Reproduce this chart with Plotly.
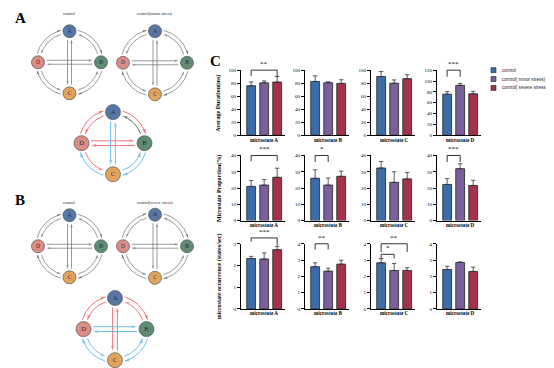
import numpy as np
import plotly.graph_objects as go

W, H = 554, 368

# ---------------- data ----------------
GROUPS = ["control", "control( minor stress)", "control( severe stress)"]
STATES = ["microstate A", "microstate B", "microstate C", "microstate D"]
Y_TITLES = ["Average Duration(ms)", "Microstate Proportion(%)", "microstate occurrence (states/sec)"]

dur_control = [76.0, 82.7, 90.3, 75.8]
dur_minor = [80.5, 80.7, 80.0, 92.0]
dur_severe = [81.7, 79.7, 87.0, 76.4]
dur_control_sd = [6.0, 8.6, 7.7, 4.8]
dur_minor_sd = [3.0, 1.5, 5.0, 3.6]
dur_severe_sd = [8.5, 5.6, 6.0, 4.8]

prop_control = [21.0, 26.0, 32.3, 22.2]
prop_minor = [21.8, 21.8, 23.5, 31.9]
prop_severe = [26.6, 27.2, 25.6, 21.6]
prop_control_sd = [3.6, 5.2, 4.0, 3.6]
prop_minor_sd = [3.4, 4.4, 6.5, 3.0]
prop_severe_sd = [5.6, 3.2, 4.0, 3.2]

occ_control = [2.32, 2.59, 2.83, 2.42]
occ_minor = [2.30, 2.32, 2.36, 2.85]
occ_severe = [2.73, 2.75, 2.36, 2.30]
occ_control_sd = [0.10, 0.24, 0.26, 0.20]
occ_minor_sd = [0.28, 0.18, 0.43, 0.04]
occ_severe_sd = [0.15, 0.24, 0.17, 0.27]

# y-axis tick maxima per row / microstate
Y_MAX = [[100, 100, 100, 120], [40, 40, 40, 40], [3, 4, 4, 4]]
Y_DTICK = [20, 10, 1]

# significance: (row, col, group_i, group_j, bracket top, leg end i, leg end j, label)
SIG = [
    (0, 0, 0, 2, 100, 91, 90, "**"),
    (0, 3, 0, 1, 120, 108, 108, "***"),
    (1, 0, 0, 2, 40, 36.5, 36.5, "***"),
    (1, 1, 0, 1, 40, 36, 36, "*"),
    (1, 3, 0, 1, 40, 36, 36, "***"),
    (2, 0, 0, 2, 3.27, 3.1, 2.92, "***"),
    (2, 1, 0, 1, 4.0, 3.65, 3.65, "**"),
    (2, 2, 0, 2, 4.0, 3.5, 3.5, "**"),
    (2, 2, 0, 1, 3.35, 3.1, 3.1, "*"),
]

# transition diagrams: colour of each directed transition
NODES = ["A", "B", "C", "D"]
EDGES = ["A>B", "B>A", "B>C", "C>B", "C>D", "D>C", "D>A", "A>D", "A>C", "C>A", "D>B", "B>D"]
ALL_GRAY = {e: "gray" for e in EDGES}
MINOR_DIFF = {"A>B": "red", "B>A": "gray", "B>C": "blue", "C>B": "blue", "C>D": "blue", "D>C": "red",
              "D>A": "red", "A>D": "red", "A>C": "blue", "C>A": "blue", "D>B": "red", "B>D": "red"}
SEVERE_DIFF = {"A>B": "red", "B>A": "red", "B>C": "blue", "C>B": "blue", "C>D": "blue", "D>C": "blue",
               "D>A": "red", "A>D": "red", "A>C": "red", "C>A": "red", "D>B": "blue", "B>D": "blue"}

# ---------------- styles / layout ----------------
BAR_COLORS = ["#3b6ea8", "#7a5f9b", "#a2334a"]
NODE_COLORS = ["#5677a5", "#5f8b72", "#e2a45c", "#db8c85"]
EDGE_COLORS = {"gray": "#555555", "red": "#f0626a", "blue": "#5db8ea"}
SERIF = "Liberation Serif"
SANS = "Liberation Sans"

COL_LEFT = [233, 297, 363, 429]
SUB_W = 44
ROW_TOP = [61, 147.5, 237]
SUB_H = 66
EXT = 1.3
XR = [-0.78, 2.6]

def fx(p):
    return p / W

def fy(p):
    return 1 - p / H

fig = go.Figure()
layout = {}
annotations = []

metric_means = [
    [dur_control, dur_minor, dur_severe],
    [prop_control, prop_minor, prop_severe],
    [occ_control, occ_minor, occ_severe],
]
metric_sds = [
    [dur_control_sd, dur_minor_sd, dur_severe_sd],
    [prop_control_sd, prop_minor_sd, prop_severe_sd],
    [occ_control_sd, occ_minor_sd, occ_severe_sd],
]

for r in range(3):
    for c in range(4):
        k = r * 4 + c + 1
        kb = 12 + k
        tmax = Y_MAX[r][c]
        x0, x1 = COL_LEFT[c], COL_LEFT[c] + SUB_W
        ybot, ytop = ROW_TOP[r] + SUB_H, ROW_TOP[r]
        layout[f"xaxis{k}"] = dict(domain=[fx(x0), fx(x1)], anchor=f"y{k}", range=XR,
                                   showline=True, linecolor="#000", linewidth=1, ticks="",
                                   showticklabels=False, showgrid=False, zeroline=False, fixedrange=True)
        layout[f"yaxis{k}"] = dict(domain=[fy(ybot), fy(ytop)], anchor=f"x{k}", range=[0, tmax],
                                   tickmode="linear", tick0=0, dtick=Y_DTICK[r], ticks="outside",
                                   ticklen=3, tickwidth=0.8, tickcolor="#000", showline=True,
                                   linecolor="#000", linewidth=1, showgrid=False, zeroline=False,
                                   fixedrange=True,
                                   tickfont=dict(family=SERIF, size=5, color="#000"))
        layout[f"yaxis{kb}"] = dict(domain=[fy(ybot), fy(ytop - SUB_H * (EXT - 1))], anchor=f"x{k}",
                                    range=[0, tmax * EXT], visible=False, fixedrange=True)
        for g in range(3):
            fig.add_trace(go.Bar(
                x=[g], y=[metric_means[r][g][c]], width=0.68, name=GROUPS[g],
                marker=dict(color=BAR_COLORS[g], line=dict(color="#222", width=0.8)),
                error_y=dict(type="data", array=[metric_sds[r][g][c]], arrayminus=[0],
                             symmetric=False, color="#333", thickness=0.8, width=2.2),
                xaxis=f"x{k}", yaxis=f"y{k}", showlegend=False, hoverinfo="skip"))
        annotations.append(dict(x=fx((x0 + x1) / 2 + 1), y=fy(ybot + 4.5), xref="paper", yref="paper",
                                text=STATES[c], showarrow=False, xanchor="center", yanchor="middle",
                                font=dict(family=SERIF, size=5.2, color="#000", weight="bold")))
    annotations.append(dict(x=fx(211), y=fy(ROW_TOP[r] + SUB_H / 2), xref="paper", yref="paper",
                            text=Y_TITLES[r], textangle=-90, showarrow=False,
                            xanchor="center", yanchor="middle",
                            font=dict(family=SERIF, size=6, color="#000", weight="bold")))

for (r, c, gi, gj, top, li, lj, lab) in SIG:
    k = r * 4 + c + 1
    kb = 12 + k
    fig.add_trace(go.Scatter(x=[gi, gi, gj, gj], y=[li, top, top, lj], mode="lines",
                             line=dict(color="#000", width=0.8), xaxis=f"x{k}", yaxis=f"y{kb}",
                             showlegend=False, hoverinfo="skip"))
    annotations.append(dict(x=(gi + gj) / 2, y=top, xref=f"x{k}", yref=f"y{kb}", text=lab,
                            showarrow=False, xanchor="center", yanchor="bottom",
                            font=dict(family=SERIF, size=7, color="#000")))

# ---------------- transition diagrams (pixel overlay axis) ----------------
OX, OY = "x13", "y25"
layout["xaxis13"] = dict(domain=[0, 1], range=[0, W], visible=False, anchor="y25", fixedrange=True)
layout["yaxis25"] = dict(domain=[0, 1], range=[H, 0], visible=False, anchor="x13", fixedrange=True)

DIAGRAMS = [
    dict(cx=61.5, cy=53, R=31.5, nr=6.5, title="control", ty=4, cmap=ALL_GRAY),
    dict(cx=147, cy=53.5, R=32, nr=6.5, title="control(minor stress)", ty=4, cmap=ALL_GRAY),
    dict(cx=105, cy=135, R=31.5, nr=7.5, title=None, ty=None, cmap=MINOR_DIFF),
    dict(cx=61.5, cy=239.5, R=31.5, nr=6.5, title="control", ty=195, cmap=ALL_GRAY),
    dict(cx=147, cy=239.5, R=32, nr=6.5, title="control(severe stress)", ty=195, cmap=ALL_GRAY),
    dict(cx=107, cy=323.5, R=31.5, nr=7.5, title=None, ty=None, cmap=SEVERE_DIFF),
]
ANG = {"A": -np.pi / 2, "B": 0.0, "C": np.pi / 2, "D": np.pi}
CW_PAIRS = [("A", "B"), ("B", "C"), ("C", "D"), ("D", "A")]

for d in DIAGRAMS:
    cx, cy, R, nr = d["cx"], d["cy"], d["R"], d["nr"]
    big = d["title"] is None
    off = 2.4 if big else 2.0
    gap = nr + 2.2
    segs = {}

    def add(key, xs, ys):
        col = d["cmap"][key]
        segs.setdefault(col, []).append((list(xs), list(ys)))

    for P, Q in CW_PAIRS:
        tP = ANG[P]
        tQ = tP + np.pi / 2
        ro, ri = R + off, R - off
        t = np.linspace(tP + gap / ro, tQ - gap / ro, 30)
        add(f"{P}>{Q}", cx + ro * np.cos(t), cy + ro * np.sin(t))
        t = np.linspace(tQ - gap / ri, tP + gap / ri, 30)
        add(f"{Q}>{P}", cx + ri * np.cos(t), cy + ri * np.sin(t))
    yy = np.linspace(cy - R + gap, cy + R - gap, 10)
    add("A>C", np.full(10, cx - off), yy)
    add("C>A", np.full(10, cx + off), yy[::-1])
    xx = np.linspace(cx - R + gap, cx + R - gap, 10)
    add("D>B", xx, np.full(10, cy - off))
    add("B>D", xx[::-1], np.full(10, cy + off))

    for col, lst in segs.items():
        X, Y, S = [], [], []
        for xs, ys in lst:
            X += xs + [None]
            Y += ys + [None]
            S += [0] * (len(xs) - 1) + [5 if big else 3.6] + [0]
        fig.add_trace(go.Scatter(
            x=X, y=Y, mode="lines+markers", xaxis=OX, yaxis=OY, showlegend=False, hoverinfo="skip",
            line=dict(color=EDGE_COLORS[col], width=0.9 if big else 0.6),
            marker=dict(symbol="arrow", size=S, color=EDGE_COLORS[col], angleref="previous",
                        line=dict(width=0))))

    nx = [cx + R * np.cos(ANG[n]) for n in NODES]
    ny = [cy + R * np.sin(ANG[n]) for n in NODES]
    fig.add_trace(go.Scatter(
        x=nx, y=ny, mode="markers+text", text=NODES, textposition="middle center",
        textfont=dict(family=SERIF, size=6.5 if big else 5.5, color="#2a2a2a"),
        marker=dict(size=2 * nr, color=NODE_COLORS, line=dict(color="#555", width=0.7)),
        xaxis=OX, yaxis=OY, showlegend=False, hoverinfo="skip"))
    if d["title"]:
        annotations.append(dict(x=cx, y=d["ty"], xref=OX, yref=OY, text=d["title"], showarrow=False,
                                font=dict(family=SERIF, size=4.2, color="#222")))

# ---------------- manual legend ----------------
LEG_Y = [61, 70, 79]
fig.add_trace(go.Scatter(x=[485.5] * 3, y=LEG_Y, mode="markers", xaxis=OX, yaxis=OY,
                         marker=dict(symbol="square", size=5, color=BAR_COLORS,
                                     line=dict(color="#222", width=0.6)),
                         showlegend=False, hoverinfo="skip"))
for g in range(3):
    annotations.append(dict(x=492, y=LEG_Y[g], xref=OX, yref=OY, text=GROUPS[g], showarrow=False,
                            xanchor="left", yanchor="middle",
                            font=dict(family=SANS, size=4.6, color="#222")))

# panel letters
for lab, (x, y) in zip(["A", "B", "C"], [(12, 8), (12, 193), (207, 52)]):
    annotations.append(dict(x=x, y=y, xref=OX, yref=OY, text=lab, showarrow=False,
                            font=dict(family=SERIF, size=15, color="#000", weight="bold")))

fig.update_layout(
    width=W, height=H, margin=dict(l=0, r=0, t=0, b=0),
    paper_bgcolor="white", plot_bgcolor="rgba(0,0,0,0)", barmode="overlay",
    showlegend=False, annotations=annotations, font=dict(family=SERIF), **layout)

fig.write_html("out.html")
